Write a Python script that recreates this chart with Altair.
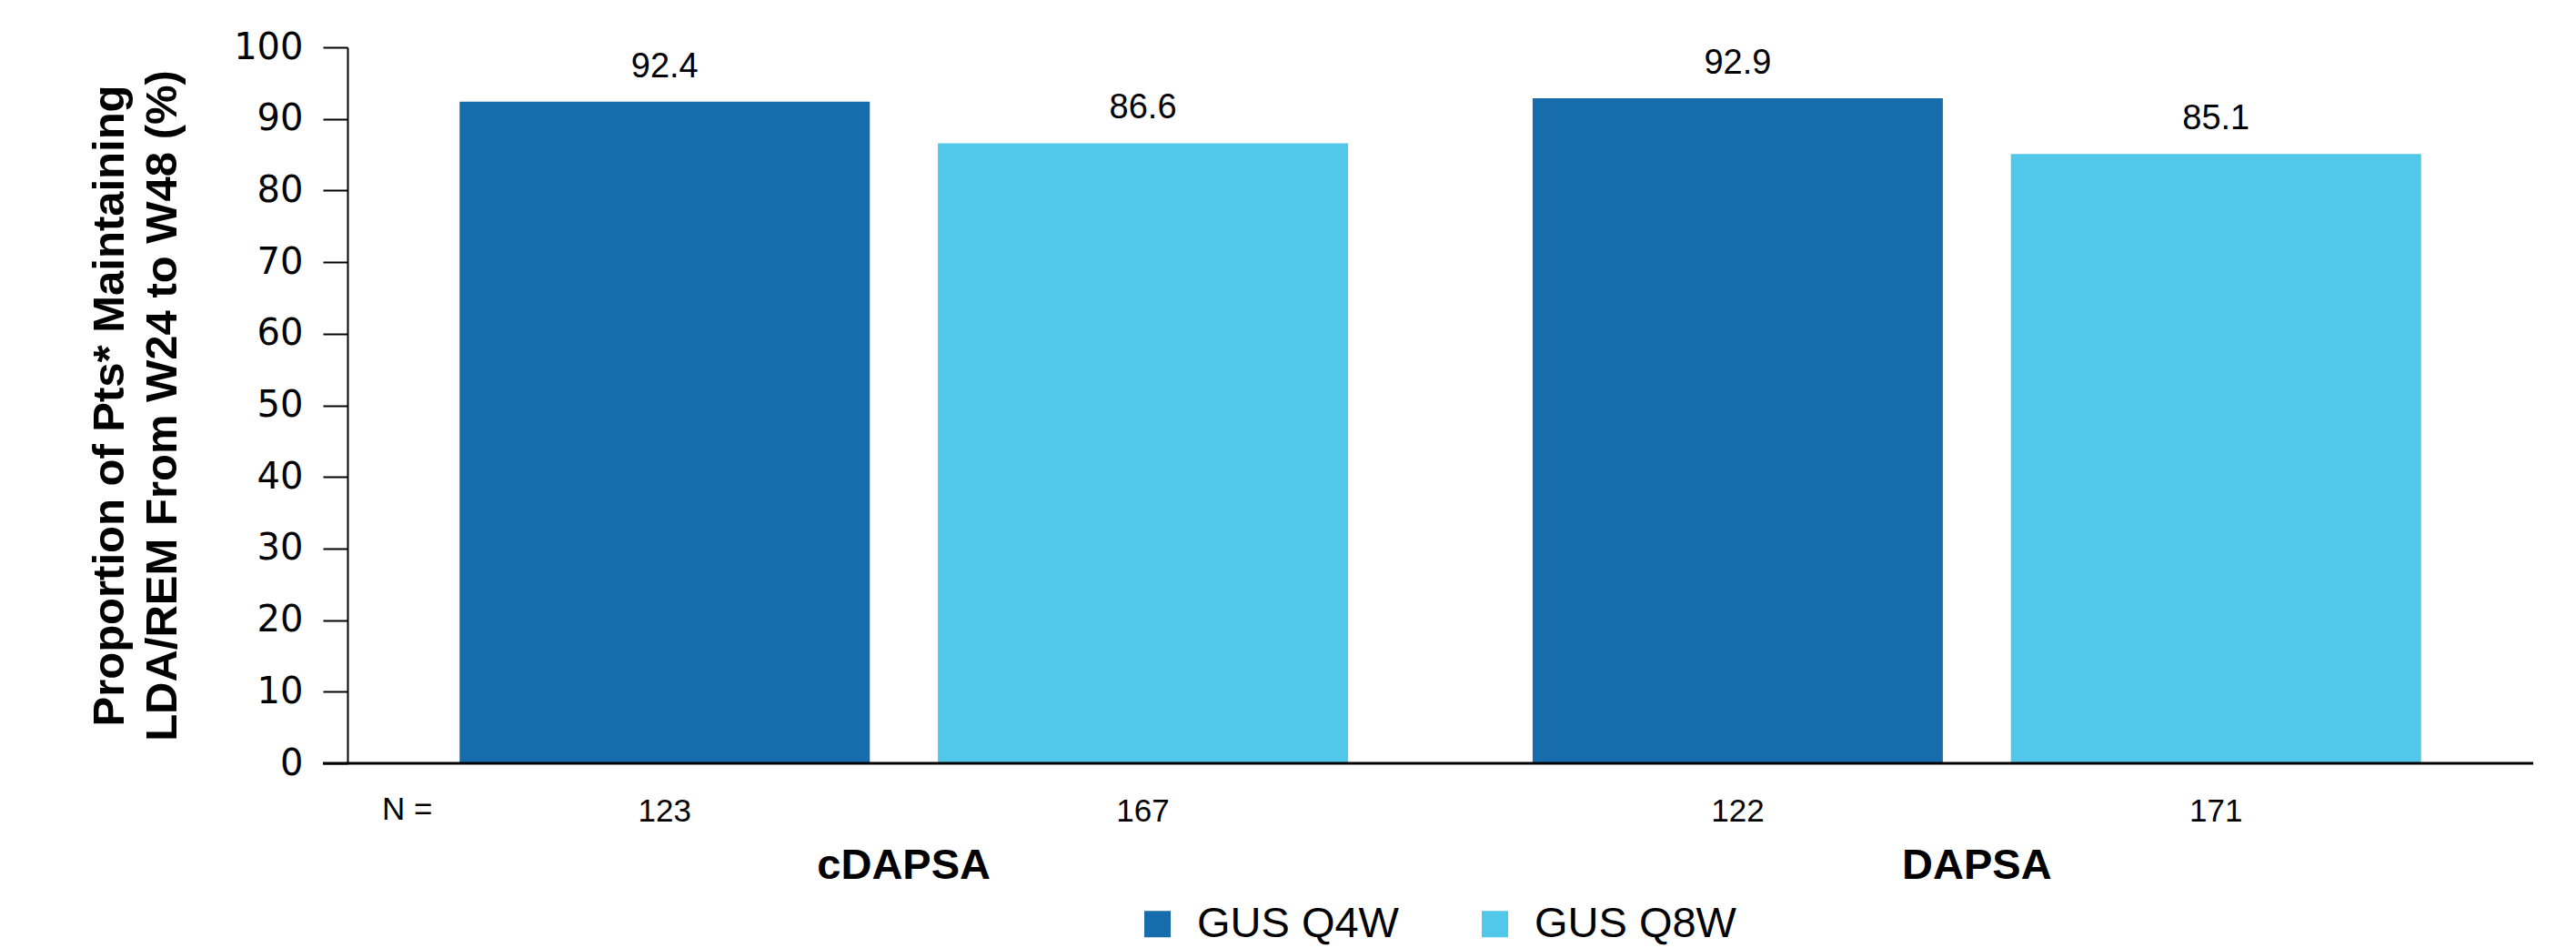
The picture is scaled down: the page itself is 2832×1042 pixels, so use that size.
import altair as alt
import pandas as pd

categories = ["cDAPSA", "DAPSA"]
arms = ["GUS Q4W", "GUS Q8W"]
q4w_values = [92.4, 92.9]
q8w_values = [86.6, 85.1]
q4w_n = [123, 122]
q8w_n = [167, 171]
y_ticks = [0, 10, 20, 30, 40, 50, 60, 70, 80, 90, 100]
colors = ["#176DAB", "#51C8EA"]

rows = []
for i, c in enumerate(categories):
    rows.append({"group": c, "arm": arms[0], "value": q4w_values[i], "n": q4w_n[i]})
    rows.append({"group": c, "arm": arms[1], "value": q8w_values[i], "n": q8w_n[i]})
df = pd.DataFrame(rows)
df["label"] = df["value"].map(lambda v: f"{v:.1f}")

W, H = 2403, 787

x_enc = alt.X(
    "group:N",
    sort=categories,
    scale=alt.Scale(paddingInner=0.172, paddingOuter=0.1045),
    axis=alt.Axis(
        title=None, domain=False, ticks=False, tickSize=0, labelAngle=0, labelLimit=0,
        labelFont="Liberation Sans", labelFontSize=47, labelFontWeight="bold",
        labelColor="#000000", labelPadding=126, labelBaseline="alphabetic",
    ),
)
xo_enc = alt.XOffset("arm:N", sort=arms, scale=alt.Scale(paddingInner=0.1423, paddingOuter=0))
y_enc = alt.Y(
    "value:Q",
    scale=alt.Scale(domain=[0, 100], nice=False),
    axis=alt.Axis(
        values=y_ticks, grid=False, domain=True, domainColor="#000000", domainWidth=2,
        ticks=True, tickColor="#000000", tickWidth=2, tickSize=27,
        labelFont="DejaVu Sans", labelFontSize=40, labelColor="#000000", labelPadding=22,
        title=["Proportion of Pts* Maintaining", "LDA/REM From W24 to W48 (%)"],
        titleFont="Liberation Sans", titleFontSize=49, titleFontWeight="bold",
        titleColor="#000000", titleAngle=270, titleX=-247, titleY=H / 2,
        titleBaseline="alphabetic", titleAlign="center", titleLineHeight=58,
    ),
)

base = alt.Chart(df)

bars = base.mark_bar().encode(
    x=x_enc,
    xOffset=xo_enc,
    y=y_enc,
    color=alt.Color(
        "arm:N", sort=arms,
        scale=alt.Scale(domain=arms, range=colors),
        legend=alt.Legend(
            title=None, orient="none", direction="horizontal",
            legendX=867, legendY=940, labelLimit=0,
            symbolType="square", symbolSize=841, symbolStrokeWidth=0,
            labelFont="Liberation Sans", labelFontSize=47, labelColor="#000000",
            labelOffset=20, columnPadding=82,
        ),
    ),
)

value_labels = base.mark_text(
    baseline="alphabetic", dy=-27, font="Liberation Sans", fontSize=38, color="#000000"
).encode(x=x_enc, xOffset=xo_enc, y=y_enc, text="label:N")

n_labels = base.mark_text(
    baseline="alphabetic", font="Liberation Sans", fontSize=35, color="#000000"
).encode(x=x_enc, xOffset=xo_enc, y=alt.value(H + 64), text="n:Q")

n_prefix = alt.Chart(pd.DataFrame({"t": ["N ="]})).mark_text(
    baseline="alphabetic", align="left", font="Liberation Sans", fontSize=35, color="#000000"
).encode(x=alt.value(38), y=alt.value(H + 62), text="t:N")

baseline = alt.Chart(pd.DataFrame({"t": [0]})).mark_rule(
    color="#000000", strokeWidth=3
).encode(x=alt.value(-27), x2=alt.value(W), y=alt.value(H))

chart = alt.layer(bars, value_labels, n_labels, n_prefix, baseline).properties(
    width=W, height=H,
    autosize=alt.AutoSizeParams(type="none"),
    padding={"left": 374, "top": 44, "right": 39, "bottom": 200},
).configure_view(stroke=None)

chart.save("out.html", embed_options={"renderer": "svg", "actions": False})
